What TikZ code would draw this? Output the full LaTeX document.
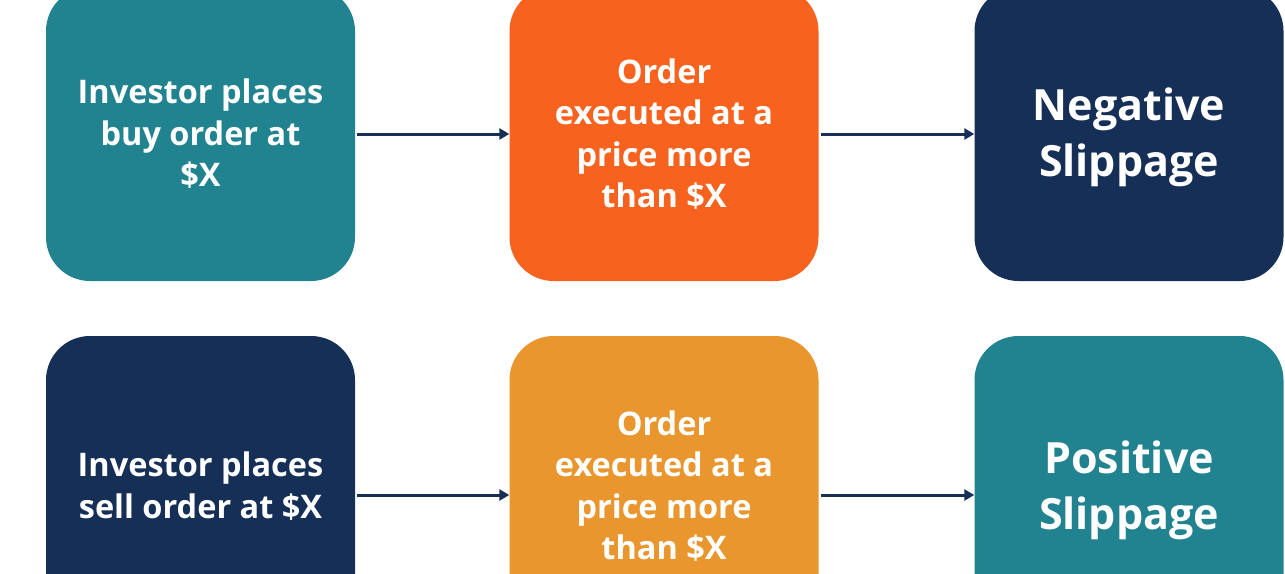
\documentclass[tikz,border=0pt]{standalone}
\usepackage{fontspec}
\setmainfont{Open Sans}
\usetikzlibrary{arrows.meta}
\definecolor{slipteal}{HTML}{21838F}
\definecolor{sliporange}{HTML}{F7621E}
\definecolor{slipnavy}{HTML}{162F57}
\definecolor{slipamber}{HTML}{E9962F}
\tikzset{
  stepbox/.style={rounded corners=44pt, minimum width=309pt, minimum height=294pt,
    inner sep=0pt, align=center, text=white, font=\bfseries\fontsize{32.5}{41.5}\selectfont},
  lowbox/.style={stepbox, minimum height=300pt},
  bigtext/.style={align=center, text=white, font=\bfseries\fontsize{43}{56}\selectfont},
  flow/.style={-{Triangle[length=10pt,width=11pt]}, line width=3pt, draw=slipnavy}
}

\begin{document}
\begin{tikzpicture}[x=1pt,y=-1pt]
		%%%%% START %%%%%
		\useasboundingbox[fill=white] (0,0) rectangle (1285,573);

		% buy order row
		\node[stepbox, fill=slipteal] (buy) at (200.5,134) {Investor places\\buy order at\\\$X};
		\node[stepbox, fill=sliporange] (buyexec) at (664,134) {Order\\executed at a\\price more\\than \$X};
		\node[stepbox, fill=slipnavy, label={[bigtext, yshift=-3pt]center:{Negative\\Slippage}}] (neg) at (1129,134) {};

		% sell order row
		\node[lowbox, fill=slipnavy] (sell) at (200.5,486) {Investor places\\sell order at \$X};
		\node[lowbox, fill=slipamber] (sellexec) at (664,486) {Order\\executed at a\\price more\\than \$X};
		\node[lowbox, fill=slipteal, label={[bigtext, yshift=-4pt]center:{Positive\\Slippage}}] (pos) at (1129,486) {};

		\draw[flow] ([xshift=2pt]buy.east) -- (buyexec.west);
		\draw[flow] ([xshift=2pt]buyexec.east) -- (neg.west);
		\draw[flow] ([shift={(2pt,-9pt)}]sell.east) -- ([yshift=-9pt]sellexec.west);
		\draw[flow] ([shift={(2pt,-9pt)}]sellexec.east) -- ([yshift=-9pt]pos.west);
		%%%%% END %%%%%
\end{tikzpicture}
\end{document}
